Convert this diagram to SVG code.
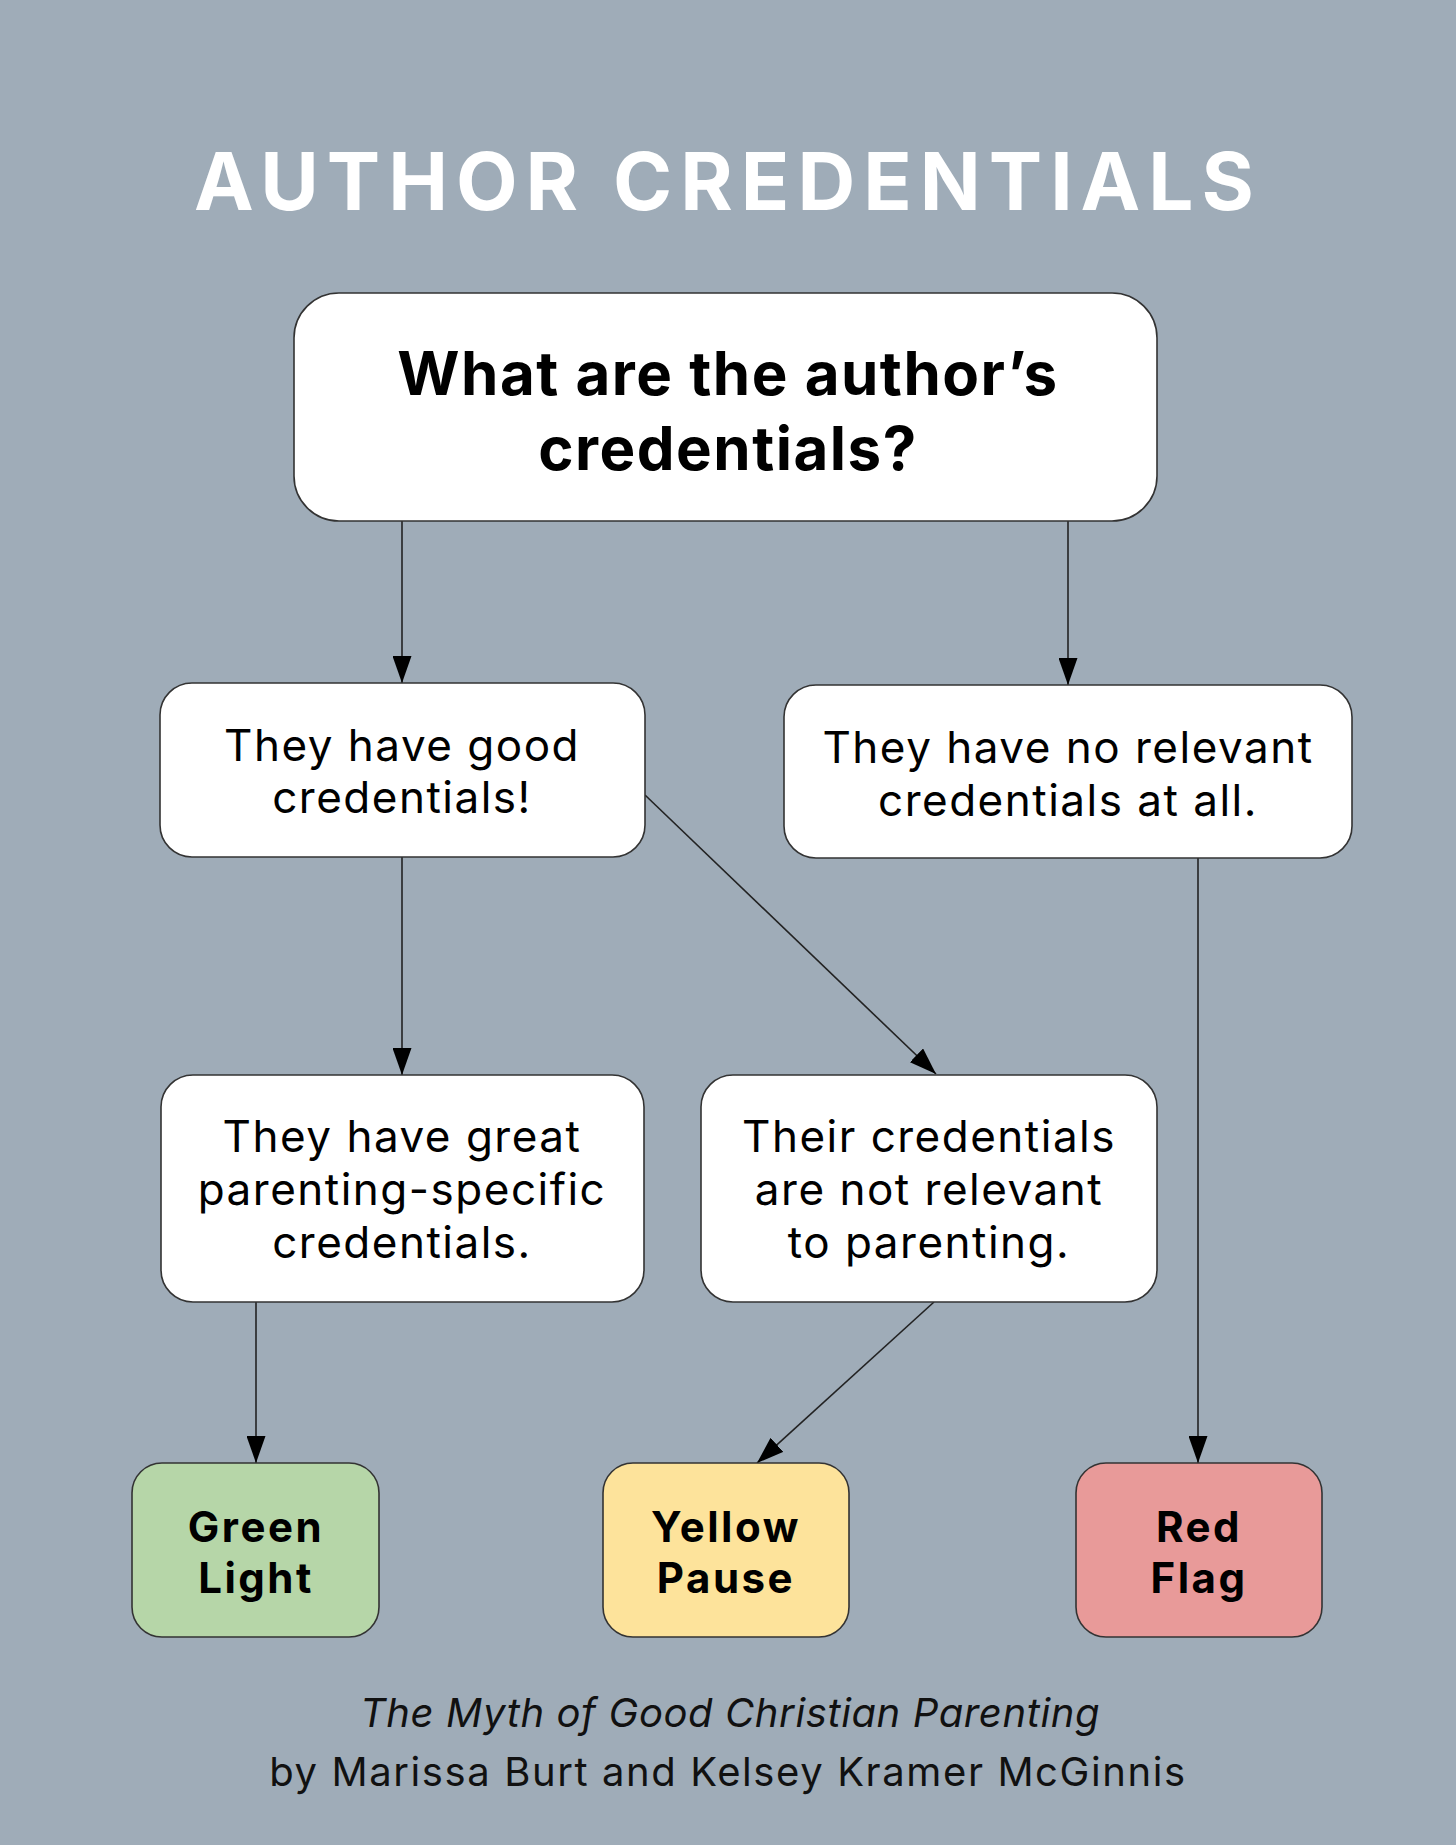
<svg xmlns="http://www.w3.org/2000/svg" width="1456" height="1845" viewBox="0 0 1456 1845">
<defs>
<marker id="ah" viewBox="0 0 27 19" refX="27" refY="9.5" markerWidth="27" markerHeight="19" markerUnits="userSpaceOnUse" orient="auto"><path d="M0,0 L27,9.5 L0,19 z" fill="#000"/></marker>
<style>
.box{fill:#fff;stroke:#333;stroke-width:1.6}
.q{font-family:Inter,"Liberation Sans",sans-serif;font-weight:700;font-size:60px;letter-spacing:1.5px;fill:#000;text-anchor:middle}
.t{font-family:Inter,"Liberation Sans",sans-serif;font-weight:400;font-size:44px;letter-spacing:1.5px;fill:#000;text-anchor:middle}
.r{font-family:Inter,"Liberation Sans",sans-serif;font-weight:700;font-size:42px;letter-spacing:2.5px;fill:#000;text-anchor:middle}
.c{stroke:#222;stroke-width:1.6;fill:none;marker-end:url(#ah)}
.f{font-family:Inter,"Liberation Sans",sans-serif;font-size:40px;fill:#111;text-anchor:middle}
</style>
</defs>
<rect width="1456" height="1845" fill="#9facb8"/>
<text x="728" y="210" font-family="Inter, 'Liberation Sans', sans-serif" font-weight="700" font-size="80" letter-spacing="8" fill="#fff" text-anchor="middle">AUTHOR CREDENTIALS</text>
<g id="connectors">
<line class="c" x1="402" y1="521" x2="402" y2="683"/>
<line class="c" x1="1068" y1="521" x2="1068" y2="685"/>
<line class="c" x1="402" y1="857" x2="402" y2="1075"/>
<line class="c" x1="645" y1="795" x2="936" y2="1074"/>
<line class="c" x1="1198" y1="858" x2="1198" y2="1463"/>
<line class="c" x1="256" y1="1302" x2="256" y2="1463"/>
<line class="c" x1="934" y1="1302" x2="757" y2="1463"/>
</g>
<g id="n-question">
<rect class="box" x="294" y="293" width="863" height="228" rx="45"/>
<text class="q" x="728" y="395">What are the author’s</text>
<text class="q" x="728" y="470">credentials?</text>
</g>
<g id="n-good">
<rect class="box" x="160" y="683" width="485" height="174" rx="32"/>
<text class="t" x="402" y="761">They have good</text>
<text class="t" x="402" y="813">credentials!</text>
</g>
<g id="n-none">
<rect class="box" x="784" y="685" width="568" height="173" rx="32"/>
<text class="t" x="1068" y="763">They have no relevant</text>
<text class="t" x="1068" y="816">credentials at all.</text>
</g>
<g id="n-great">
<rect class="box" x="161" y="1075" width="483" height="227" rx="32"/>
<text class="t" x="402" y="1152">They have great</text>
<text class="t" x="402" y="1205">parenting-specific</text>
<text class="t" x="402" y="1258">credentials.</text>
</g>
<g id="n-notrel">
<rect class="box" x="701" y="1075" width="456" height="227" rx="32"/>
<text class="t" x="929" y="1152">Their credentials</text>
<text class="t" x="929" y="1205">are not relevant</text>
<text class="t" x="929" y="1258">to parenting.</text>
</g>
<g id="n-green">
<rect class="box" x="132" y="1463" width="247" height="174" rx="30" style="fill:#b6d6a8"/>
<text class="r" x="256" y="1542">Green</text>
<text class="r" x="256" y="1593">Light</text>
</g>
<g id="n-yellow">
<rect class="box" x="603" y="1463" width="246" height="174" rx="30" style="fill:#fde39b"/>
<text class="r" x="726" y="1542">Yellow</text>
<text class="r" x="726" y="1593">Pause</text>
</g>
<g id="n-red">
<rect class="box" x="1076" y="1463" width="246" height="174" rx="30" style="fill:#e89a99"/>
<text class="r" x="1199" y="1542">Red</text>
<text class="r" x="1199" y="1593">Flag</text>
</g>
<text class="f" x="730" y="1727" font-style="italic" letter-spacing="0.6">The Myth of Good Christian Parenting</text>
<text class="f" x="728" y="1786" letter-spacing="1.6">by Marissa Burt and Kelsey Kramer McGinnis</text>
</svg>
